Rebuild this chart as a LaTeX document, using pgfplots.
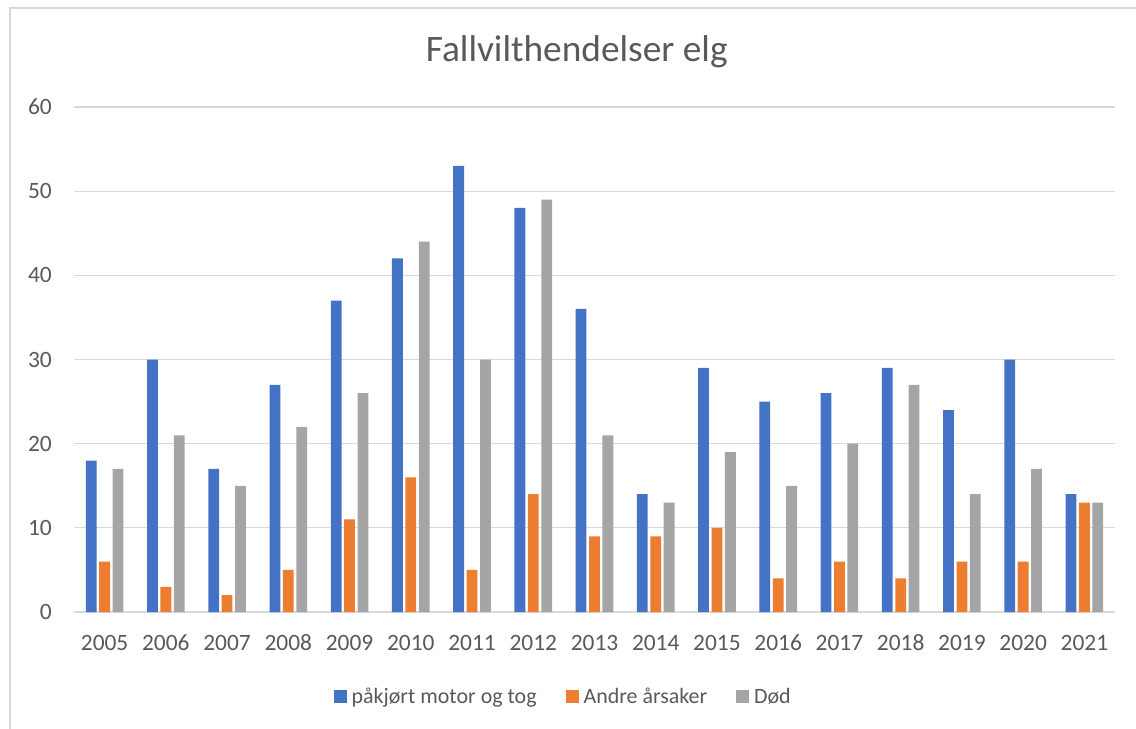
\documentclass[border=0pt]{standalone}
\usepackage{pgfplots}
\pgfplotsset{compat=1.18}
\usepackage{fontspec}
\setmainfont{Carlito}
\definecolor{txt}{HTML}{595959}
\definecolor{gridc}{HTML}{D9D9D9}
\definecolor{cblue}{HTML}{4472C4}
\definecolor{corange}{HTML}{ED7D31}
\definecolor{cgray}{HTML}{A5A5A5}
\begin{document}
\begin{tikzpicture}
\path[use as bounding box] (-74bp,-117bp) rectangle (1062bp,612bp);
\draw[gridc, line width=1.2bp] (-64bp,-120bp) -- (-64bp,604bp) -- (1066bp,604bp);
\begin{axis}[
  at={(0,0)}, anchor=south west,
  scale only axis, width=1041bp, height=505bp,
  xmin=-0.5, xmax=16.5, ymin=0, ymax=60,
  ytick={0,10,...,60},
  xtick={0,...,16},
  xticklabels={2005,2006,2007,2008,2009,2010,2011,2012,2013,2014,2015,2016,2017,2018,2019,2020,2021},
  axis line style={draw=none},
  major tick length=0pt,
  ymajorgrids, grid style={gridc, line width=1.3bp},
  ybar=2.6bp, bar width=10.8bp,
  /pgf/number format/assume math mode=true,
  ticklabel style={font=\fontsize{23.5}{28}\selectfont, text=txt},
  xticklabel style={anchor=base, inner sep=0pt, yshift=-38bp},
  yticklabel style={anchor=east, inner sep=0pt, xshift=-22bp},
  title={Fallvilthendelser elg},
  title style={at={(0.483,1.079)}, anchor=base, inner sep=0pt, font=\fontsize{37.5}{44}\selectfont, text=txt},
  legend columns=3,
  legend style={at={(0.469,-0.167)}, anchor=center, draw=none, fill=none,
    font=\fontsize{22}{26}\selectfont, text=txt,
    nodes={inner xsep=0pt, inner ysep=1bp},
    /tikz/every odd column/.append style={column sep=5bp},
    /tikz/every even column/.append style={column sep=29bp}},
  legend image code/.code={\fill[#1] (0bp,-6.5bp) rectangle (13bp,6.5bp);},
]
\addplot[fill=cblue, draw=none] coordinates {(0,18) (1,30) (2,17) (3,27) (4,37) (5,42) (6,53) (7,48) (8,36) (9,14) (10,29) (11,25) (12,26) (13,29) (14,24) (15,30) (16,14)};
\addplot[fill=corange, draw=none] coordinates {(0,6) (1,3) (2,2) (3,5) (4,11) (5,16) (6,5) (7,14) (8,9) (9,9) (10,10) (11,4) (12,6) (13,4) (14,6) (15,6) (16,13)};
\addplot[fill=cgray, draw=none] coordinates {(0,17) (1,21) (2,15) (3,22) (4,26) (5,44) (6,30) (7,49) (8,21) (9,13) (10,19) (11,15) (12,20) (13,27) (14,14) (15,17) (16,13)};
\legend{påkjørt motor og tog, Andre årsaker, Død}
\end{axis}
\end{tikzpicture}
\end{document}
